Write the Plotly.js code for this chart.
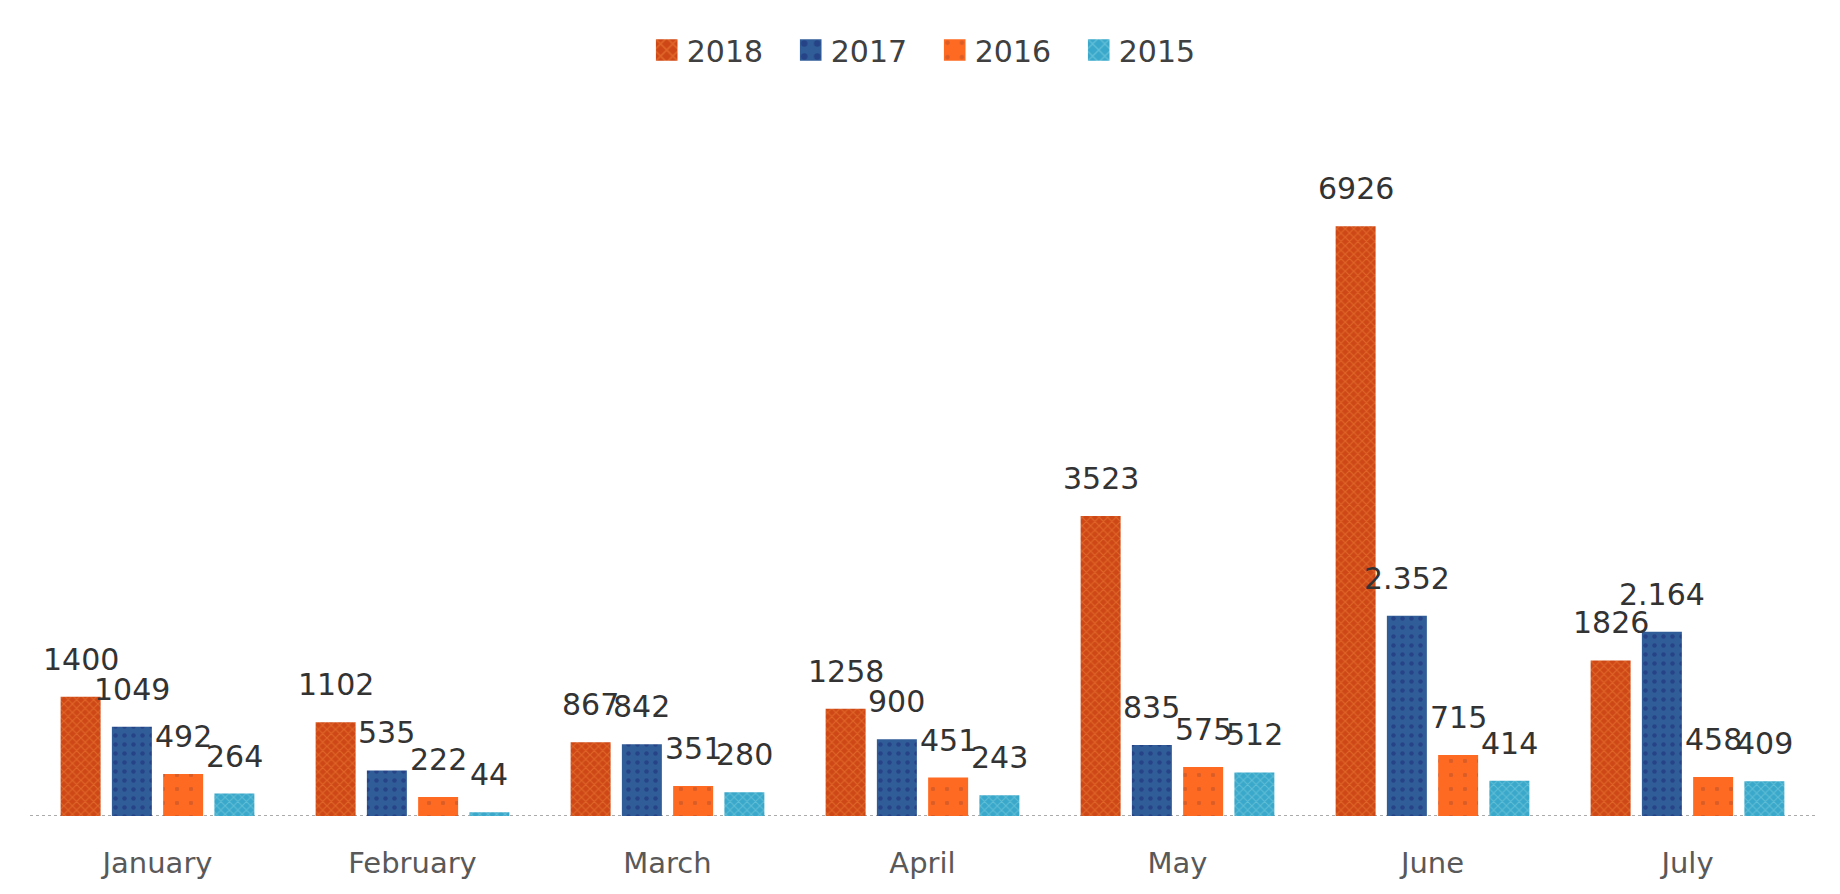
<!DOCTYPE html>
<html>
<head>
<meta charset="utf-8">
<script src="https://cdn.plot.ly/plotly-3.0.1.min.js"></script>
<style>
  html, body { margin: 0; padding: 0; background: #fff; }
  #chart { width: 1840px; height: 894px; }
</style>
</head>
<body>
<div id="chart"></div>
<script>
// months on the x axis
var months = ['January', 'February', 'March', 'April', 'May', 'June', 'July']

// one array per year
var v2018 = [1400, 1102, 867, 1258, 3523, 6926, 1826]
var v2017 = [1049, 535, 842, 900, 835, 2352, 2164]
var v2016 = [492, 222, 351, 451, 575, 715, 458]
var v2015 = [264, 44, 280, 243, 512, 414, 409]

// data labels as printed on the original (2017 uses a dot separator for thousands)
var lab2018 = ['1400', '1102', '867', '1258', '3523', '6926', '1826']
var lab2017 = ['1049', '535', '842', '900', '835', '2.352', '2.164']
var lab2016 = ['492', '222', '351', '451', '575', '715', '458']
var lab2015 = ['264', '44', '280', '243', '512', '414', '409']

var fontFam = 'DejaVu Sans, Verdana, sans-serif'
var W = 1840, H = 894
var margin = { l: 30, r: 25, t: 110, b: 78 }
var bargap = 0.196
var bargroupgap = 0.22

function makeTrace(name, y, bg, fg, shape, size, solidity) {
    return {
        type: 'bar',
        name: name,
        x: months,
        y: y,
        hoverinfo: 'x+y+name',
        marker: {
            color: bg,
            line: { width: 0 },
            pattern: {
                shape: shape,
                fillmode: 'overlay',
                bgcolor: bg,
                fgcolor: fg,
                size: size,
                solidity: solidity,
            },
        },
    }
}

var traces = [
    makeTrace('2018', v2018, '#CD4816', '#F3823A', 'x', 6, 0.35),
    makeTrace('2017', v2017, '#305C97', '#1B2A78', '.', 9, 0.2),
    makeTrace('2016', v2016, '#FF6A22', '#B8502A', '.', 14, 0.08),
    makeTrace('2015', v2015, '#3AA8CA', '#86D3E3', 'x', 6, 0.3),
]

// labels sit above each bar of the group; horizontal offset follows the group geometry
var series = [v2018, v2017, v2016, v2015]
var labels = [lab2018, lab2017, lab2016, lab2015]
var slotPx = (W - margin.l - margin.r) / months.length
var pitchPx = slotPx * (1 - bargap) / series.length
var annotations = []
for (var k = 0; k < series.length; k++) {
    for (var i = 0; i < months.length; i++) {
        annotations.push({
            x: months[i],
            y: series[k][i],
            xref: 'x',
            yref: 'y',
            text: labels[k][i],
            showarrow: false,
            xanchor: 'center',
            yanchor: 'bottom',
            xshift: (k - (series.length - 1) / 2) * pitchPx,
            yshift: 18,
            font: { family: fontFam, size: 30, color: '#333333' },
        })
    }
}

var layout = {
    width: W,
    height: H,
    paper_bgcolor: '#ffffff',
    plot_bgcolor: '#ffffff',
    barmode: 'group',
    bargap: bargap,
    bargroupgap: bargroupgap,
    showlegend: true,
    legend: {
        orientation: 'h',
        xref: 'container',
        x: 0.508,
        xanchor: 'center',
        yref: 'container',
        y: 1 - 50 / H,
        yanchor: 'middle',
        entrywidth: 99,
        entrywidthmode: 'pixels',
        font: { family: fontFam, size: 30, color: '#404040' },
        traceorder: 'normal',
    },
    margin: margin,
    xaxis: {
        type: 'category',
        showgrid: false,
        showline: false,
        zeroline: false,
        ticks: '',
        ticklabelstandoff: 27,
        tickfont: { family: fontFam, size: 29, color: '#595959' },
        fixedrange: true,
    },
    yaxis: {
        visible: false,
        range: [0, 8290],
        showgrid: false,
        zeroline: false,
        fixedrange: true,
    },
    annotations: annotations,
    shapes: [{
        type: 'line',
        xref: 'paper',
        yref: 'y',
        x0: 0,
        x1: 1,
        y0: 0,
        y1: 0,
        layer: 'below',
        line: { color: '#ABABAB', width: 2, dash: 'dot' },
    }],
}

Plotly.newPlot('chart', traces, layout, { displayModeBar: false, staticPlot: true }).then(function (gd) {
    // the original uses bigger legend swatches than plotly's 12px squares
    gd.querySelectorAll('.legendpoints path').forEach(function (p) {
        var t = p.getAttribute('transform') || ''
        p.setAttribute('transform', t + ' scale(1.8)')
    })
})
</script>
</body>
</html>
